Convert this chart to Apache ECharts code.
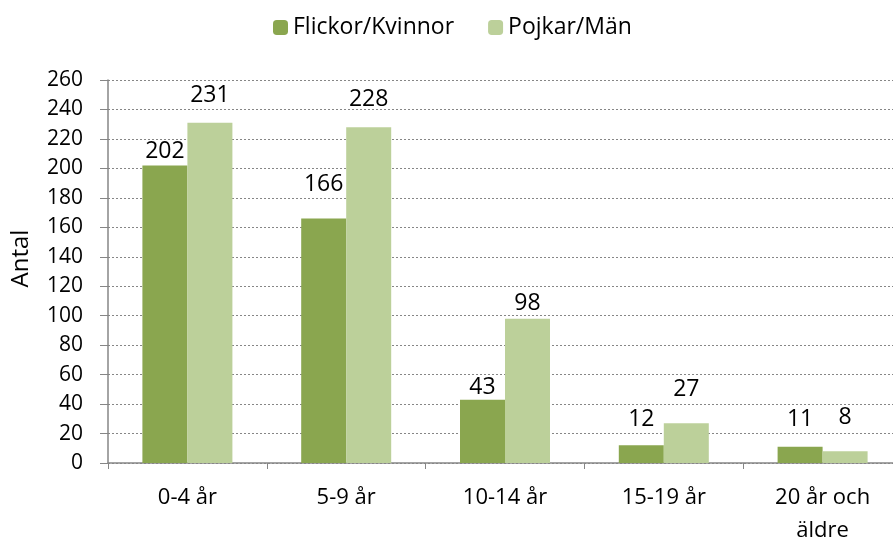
<!DOCTYPE html>
<html>
<head>
<meta charset="utf-8">
<script src="https://cdn.jsdelivr.net/npm/echarts@6/dist/echarts.min.js"></script>
<style>
  html, body { margin: 0; padding: 0; background: #fff; }
  #chart { width: 893px; height: 540px; }
</style>
</head>
<body>
<div id="chart"></div>
<script>
var categories = ['0-4 år', '5-9 år', '10-14 år', '15-19 år', '20 år och\näldre'];
var girls = [202, 166, 43, 12, 11];
var boys = [231, 228, 98, 27, 8];
var seriesNames = ['Flickor/Kvinnor', 'Pojkar/Män'];

// how far above each bar its value label sits in the original (px)
var liftGirls = [14, 34, 12, 26, 27];
var liftBoys = [27, 28, 15, 34, 34];

var chart = echarts.init(document.getElementById('chart'));
var font = '"Open Sans", sans-serif';
var labelSize = 23;

function withLabels(values, lifts) {
  return values.map(function (v, i) {
    return { value: v, label: { offset: [0, -(lifts[i] - labelSize / 2)] } };
  });
}

var labelStyle = {
  show: true,
  position: 'top',
  color: '#000',
  fontSize: labelSize,
  fontFamily: font,
  distance: 0
};

var option = {
  animation: false,
  textStyle: { fontFamily: font },
  legend: {
    top: 11,
    left: 268,
    itemWidth: 15,
    itemHeight: 15,
    itemGap: 34,
    textStyle: { fontSize: 23, color: '#000', fontFamily: font },
    data: seriesNames
  },
  grid: {
    left: 108,
    right: -9,
    top: 80,
    bottom: 77,
    containLabel: false,
    outerBoundsMode: 'none'
  },
  xAxis: {
    type: 'category',
    data: categories,
    axisLine: { lineStyle: { color: '#868686', width: 1.5 } },
    axisTick: { show: true, length: 6, lineStyle: { color: '#868686' } },
    axisLabel: { color: '#000', fontSize: 22, fontFamily: font, margin: 18, lineHeight: 33 }
  },
  yAxis: {
    type: 'value',
    min: 0,
    max: 260,
    interval: 20,
    name: 'Antal',
    nameLocation: 'middle',
    nameGap: 75,
    nameTextStyle: { color: '#000', fontSize: 24, fontFamily: font, padding: [0, 0, 0, 26] },
    axisLine: { show: true, lineStyle: { color: '#868686', width: 1.5 } },
    axisTick: { show: true, inside: false, length: 8, lineStyle: { color: '#868686' } },
    axisLabel: { color: '#000', fontSize: 21, fontFamily: font, margin: 25 },
    splitLine: { lineStyle: { color: '#868686', type: [2, 2], width: 1 } }
  },
  series: [
    {
      name: seriesNames[0],
      type: 'bar',
      data: withLabels(girls, liftGirls),
      barWidth: 45,
      barGap: '0%',
      itemStyle: { color: '#8aa64f' },
      label: labelStyle
    },
    {
      name: seriesNames[1],
      type: 'bar',
      data: withLabels(boys, liftBoys),
      barWidth: 45,
      barGap: '0%',
      itemStyle: { color: '#bcd09a' },
      label: labelStyle
    }
  ]
};
chart.setOption(option);
window.onresize = function () {
  chart.resize();
};
</script>
</body>
</html>
